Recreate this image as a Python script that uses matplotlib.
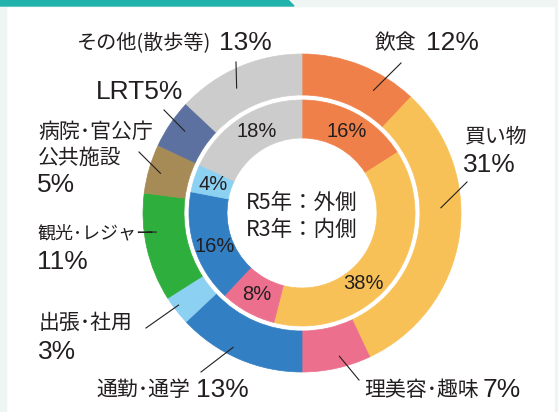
import numpy as np
import matplotlib.pyplot as plt
from matplotlib.patches import Polygon, Rectangle

plt.rcParams['font.family'] = ['Noto Sans CJK JP', 'DejaVu Sans']

# purpose shares, R5 (outer ring) and R3 (inner ring), clockwise from top
categories = ['飲食', '買い物', '理美容･趣味', '通勤･通学', '出張･社用',
              '観光･レジャー', '病院･官公庁\n公共施設', 'LRT', 'その他(散歩等)']
r5_share = [12, 31, 7, 13, 3, 11, 5, 5, 13]
r3_share = [16, 38, 8, 16, 4, 0, 0, 0, 18]
colors = ['#F0804A', '#F8C157', '#EC6F8D', '#337FC3', '#8CD0F2',
          '#2EAE3C', '#A78B57', '#5D71A0', '#CBCCCB']

TXT = '#231F20'
NUM_FONT = 'Liberation Sans'
CX, CY = 302, 213
R_OUT, R_OUT_IN, R_IN, R_IN_IN = 159, 118, 113, 75


def polar(angle, r):
    # angle in degrees clockwise from 12 o'clock, pixel coords (y down)
    a = np.radians(angle)
    return CX + r * np.sin(a), CY - r * np.cos(a)


fig = plt.figure(figsize=(5.58, 4.12), dpi=100)
ax = fig.add_axes([0, 0, 1, 1])

outer, _ = ax.pie(r5_share, colors=colors, radius=R_OUT, center=(CX, CY),
                  startangle=270, counterclock=True,
                  wedgeprops=dict(width=R_OUT - R_OUT_IN, linewidth=0.5))
inner_vals = [v for v in r3_share if v > 0]
inner_cols = [c for v, c in zip(r3_share, colors) if v > 0]
inner, _ = ax.pie(inner_vals, colors=inner_cols, radius=R_IN, center=(CX, CY),
                  startangle=270, counterclock=True,
                  wedgeprops=dict(width=R_IN - R_IN_IN, linewidth=0.5))
for w in list(outer) + list(inner):
    w.set_edgecolor(w.get_facecolor())

ax.set_xlim(0, 558)
ax.set_ylim(412, 0)
ax.set_aspect('equal')
ax.axis('off')

# page decoration
ax.add_patch(Rectangle((0, 0), 558, 6, color='#EEF5F3', zorder=0))
ax.add_patch(Polygon([(0, 0), (288, 0), (294, 6), (0, 6)], color='#21B2AC', zorder=1))
ax.add_patch(Rectangle((0, 6), 6, 406, color='#EFF5F3', zorder=0))
ax.add_patch(Rectangle((555, 6), 3, 406, color='#EFF5F3', zorder=0))

# inner ring percentages
nudge = [0, 13, 0, -3, 0, 3]
start = 0
for k, v in enumerate(inner_vals):
    mid = (start + v / 2) * 3.6 + nudge[k]
    x, y = polar(mid, 93)
    ax.text(x, y, f'{v}%', ha='center', va='center', fontsize=14.5,
            family=NUM_FONT, color=TXT)
    start += v

# centre caption
ax.text(CX, 203, 'R5年：外側', ha='center', va='center', fontsize=15.5, color=TXT)
ax.text(CX, 230, 'R3年：内側', ha='center', va='center', fontsize=15.5, color=TXT)

# leader lines: (fraction within wedge, radius) -> end point
leaders = [(0.70, 142, (401, 63)), (0.40, 139, (467, 182)), (0.42, 148, (359, 380)),
           (0.58, 151, (201, 372)), (0.60, 154, (146, 328)), (0.63, 147, (148, 232)),
           (0.47, 147, (139, 152)), (0.54, 143, (164, 110)), (0.41, 141, (236, 62))]
cum = np.concatenate([[0], np.cumsum(r5_share)])
for i, (f, r, end) in enumerate(leaders):
    ang = (cum[i] + f * r5_share[i]) * 3.6
    x0, y0 = polar(ang, r)
    ax.plot([x0, end[0]], [y0, end[1]], color=TXT, lw=0.8, zorder=5)

# outer labels: (label x, label y, number x, number y, label size)
label_pos = [(375, 43, 426, 43, 15), (465, 137, 463, 165, 15),
             (364, 390, 483, 390, 15), (96, 390, 196, 390, 15),
             (39, 323, 38, 352, 15), (37, 233, 37, 262, 13),
             (38, 132, 37, 185, 15), (None, None, 96, 92, 0),
             (77, 43, 219, 43, 14.5)]
for i, (lx, ly, nx, ny, size) in enumerate(label_pos):
    num = f'{r5_share[i]}%'
    if lx is None:
        num = categories[i] + num
    else:
        for j, line in enumerate(categories[i].split('\n')):
            ax.text(lx, ly + 26 * j, line, ha='left', va='center',
                    fontsize=size, color=TXT)
    ax.text(nx, ny, num, ha='left', va='center', fontsize=19,
            family=NUM_FONT, color=TXT)

fig.savefig('out.png', dpi=100)
